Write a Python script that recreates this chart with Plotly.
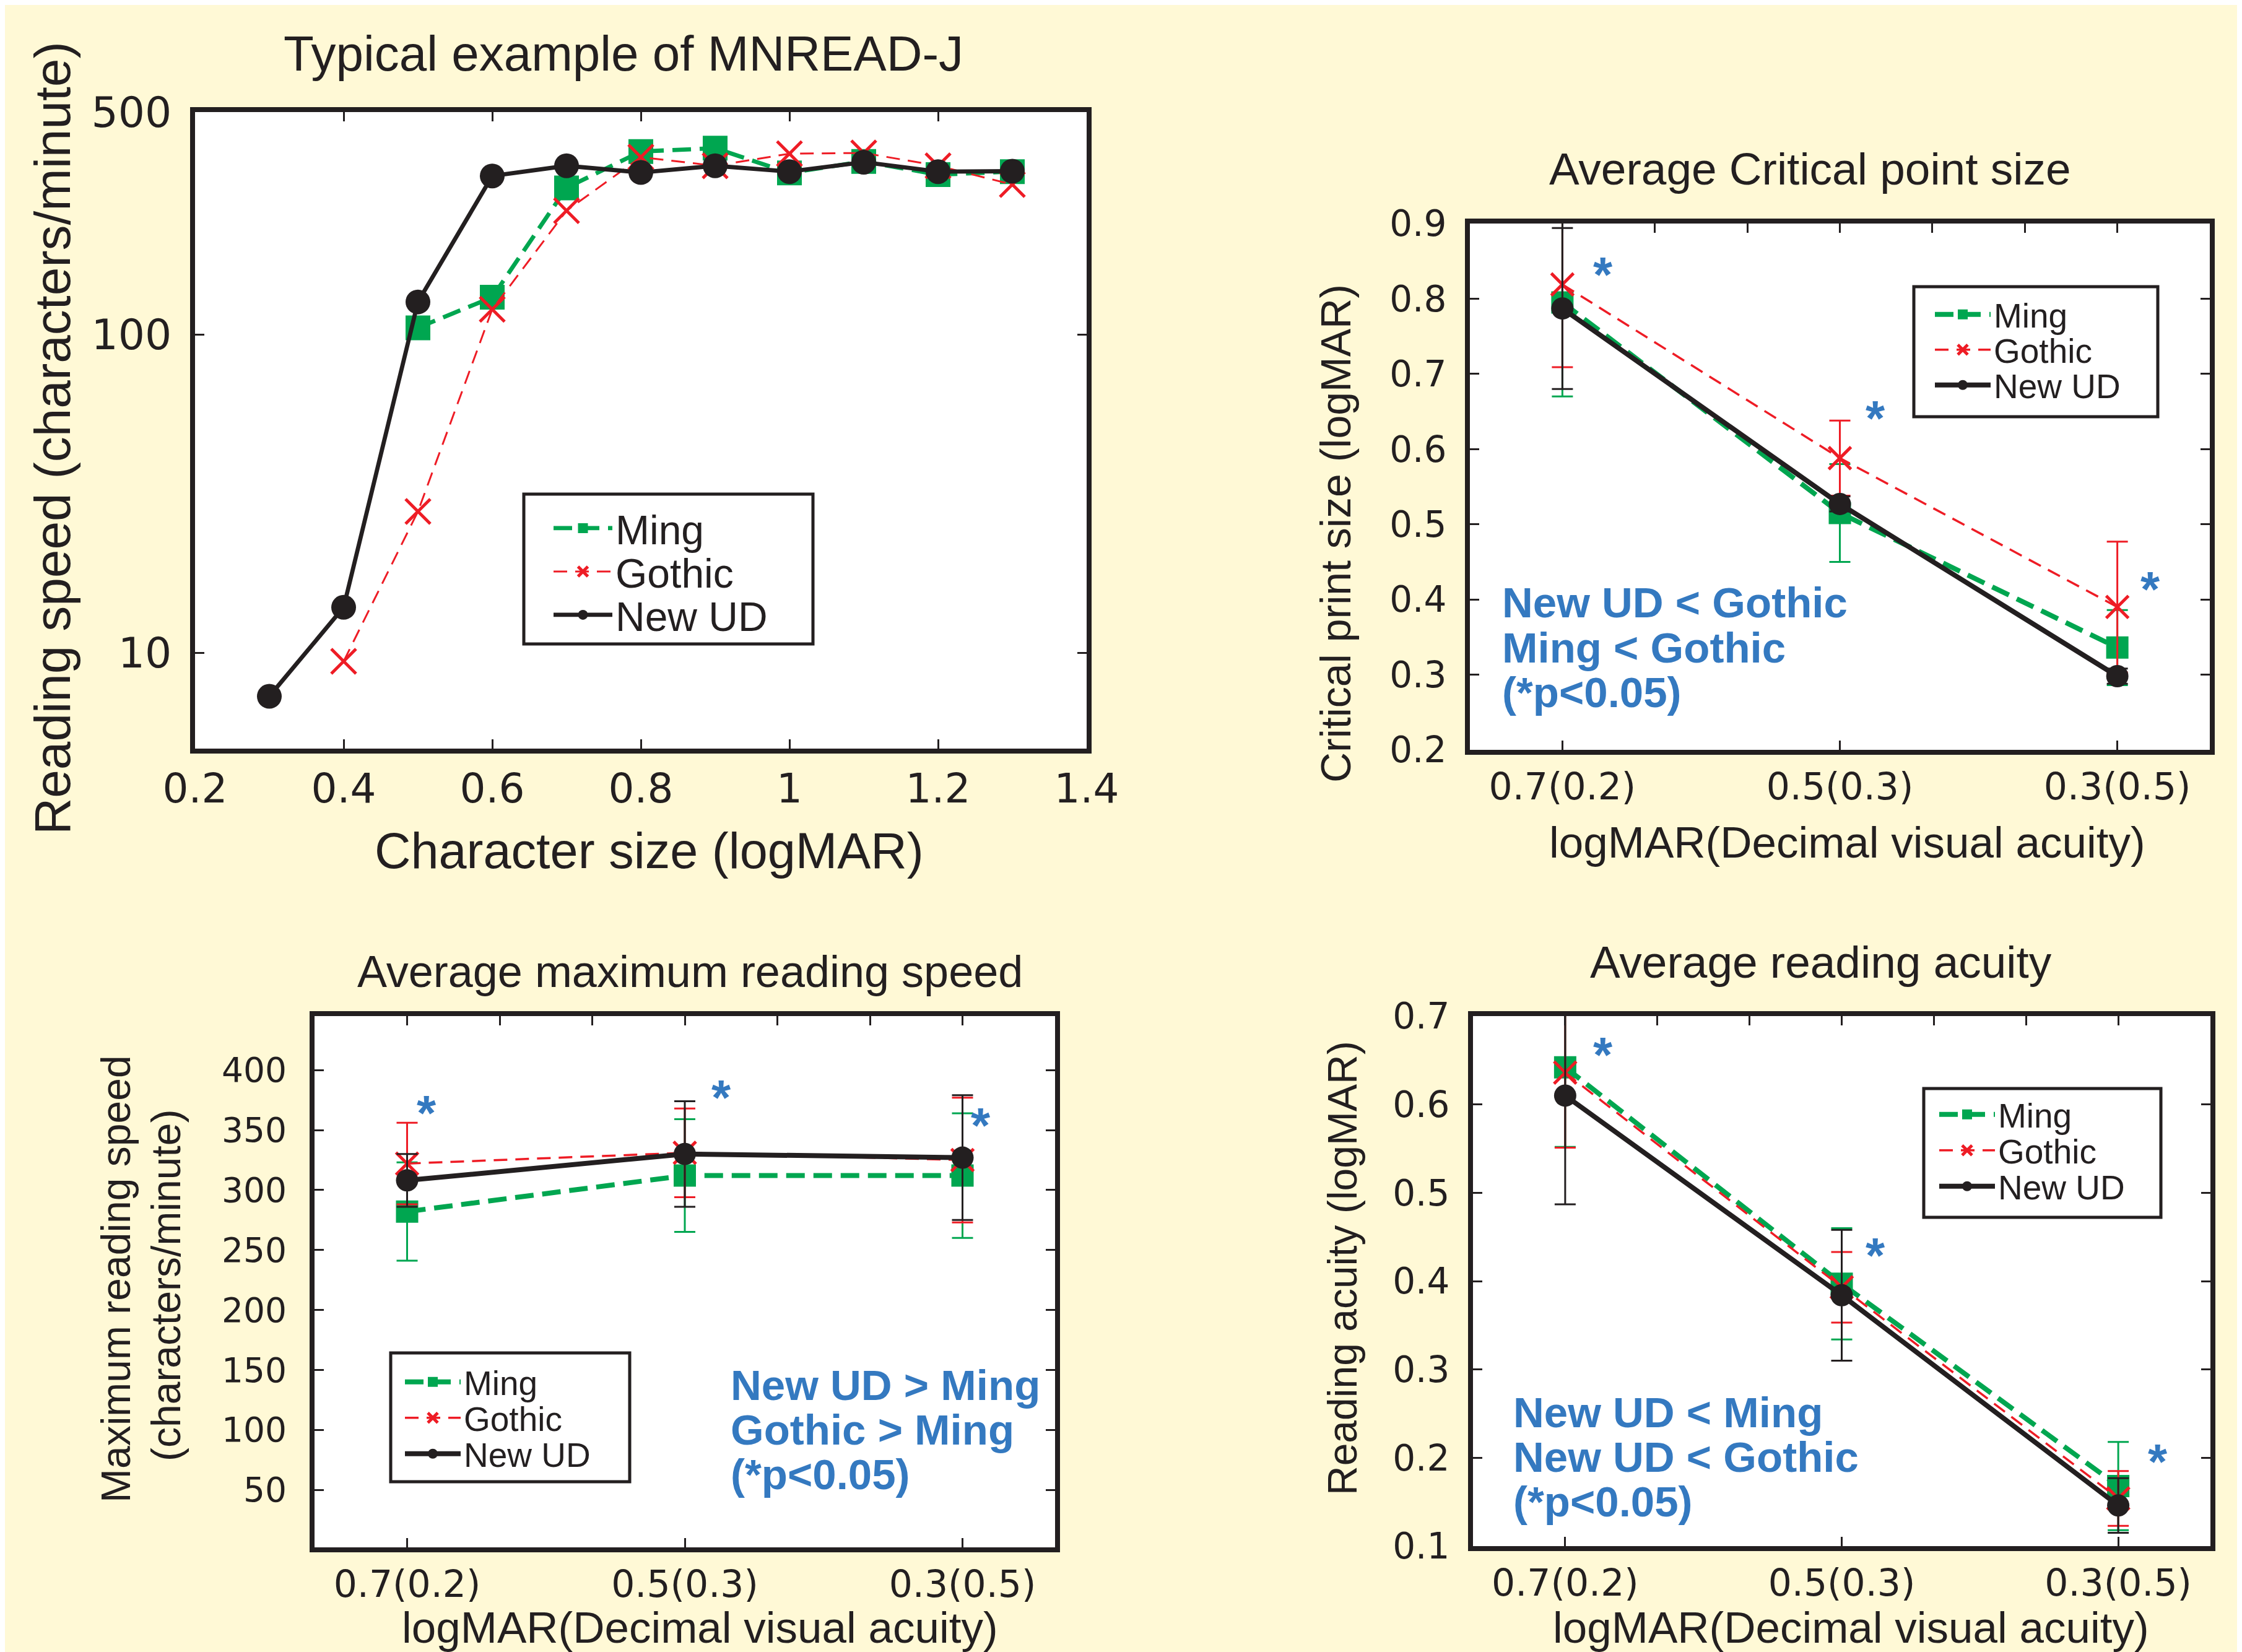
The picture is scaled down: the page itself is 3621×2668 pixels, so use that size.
import plotly.graph_objects as go

W, H = 3621, 2668

# ---------------- data ----------------
# Panel 1: typical example (log reading speed vs character size)
size_logmar = [0.3, 0.4, 0.5, 0.6, 0.7, 0.8, 0.9, 1.0, 1.1, 1.2, 1.3]
speed_ming = [None, None, 105, 131, 289, 376, 385, 322, 350, 318, 325]
speed_gothic = [None, 9.4, 27.8, 120, 245, 361, 339, 370, 372, 339, 296]
speed_newud = [7.3, 13.9, 126.6, 315, 339, 323, 339, 325, 348, 325, 326]

# Panels 2-4: three acuity groups
acuity_labels = ["0.7(0.2)", "0.5(0.3)", "0.3(0.5)"]
acuity_pos = [1, 2, 3]

cps_ming = [0.795, 0.515, 0.336]
cps_ming_err = [0.125, 0.065, 0.05]
cps_gothic = [0.819, 0.588, 0.390]
cps_gothic_err = [0.11, 0.05, 0.087]
cps_newud = [0.787, 0.527, 0.298]
cps_newud_err = [0.107, 0.01, 0.01]

mrs_ming = [282, 312, 312]
mrs_ming_err = [41, 47, 52]
mrs_gothic = [322, 331, 325]
mrs_gothic_err = [34, 37, 52]
mrs_newud = [308, 330, 327]
mrs_newud_err = [22, 44, 52]

ra_ming = [0.642, 0.397, 0.168]
ra_ming_err = [0.09, 0.063, 0.05]
ra_gothic = [0.636, 0.393, 0.154]
ra_gothic_err = [0.085, 0.04, 0.031]
ra_newud = [0.610, 0.384, 0.146]
ra_newud_err = [0.123, 0.074, 0.031]

series_names = ["Ming", "Gothic", "New UD"]

# ---------------- styles ----------------
GREEN = "#00A650"
RED = "#EE1C25"
BLACK = "#231F20"
BLUE = "#3479C0"
BG = "#FFF9D6"
TITLE_FONT = "Liberation Sans"
TICK_FONT = "DejaVu Sans"


def px(x):
    return x / W


def py(y):
    return 1 - y / H


fig = go.Figure()

# legend placement per panel: (text-left x, [item centre y], box [x0, y0, x1, y1], font, itemwidth)
legend_specs = [
    (986, [845, 915, 985], [838, 790, 1305, 1032], 66, 95),
    (3212, [500, 557, 614], [3083, 455, 3477, 665], 55, 90),
    (741, [2224, 2282, 2340], [623, 2177, 1009, 2385], 55, 90),
    (3219, [1792, 1850, 1908], [3099, 1750, 3482, 1958], 55, 90),
]


def legend_name(n):
    return "legend" if n == 1 else f"legend{n}"


def add_series(panel, xs, ys, errs, xa, ya, lw_scale, msize):
    styles = [
        dict(color=GREEN, width=8 * lw_scale, dash="30px,14px", symbol="square", mline=0),
        dict(color=RED, width=3.5 * lw_scale, dash="22px,13px", symbol="x-thin", mline=5),
        dict(color=BLACK, width=8 * lw_scale, dash="solid", symbol="circle", mline=0),
    ]
    for k, (name, y, e, st) in enumerate(zip(series_names, ys, errs, styles)):
        tr = dict(
            x=xs, y=y, name=name, mode="lines+markers", xaxis=xa, yaxis=ya,
            legend=legend_name(panel * 3 + k + 1), cliponaxis=False,
            line=dict(color=st["color"], width=st["width"], dash=st["dash"]),
            marker=dict(symbol=st["symbol"], size=msize, color=st["color"],
                        line=dict(color=st["color"], width=st["mline"])),
        )
        if e is not None:
            tr["error_y"] = dict(type="data", array=e, visible=True, color=st["color"],
                                 thickness=3, width=17)
        fig.add_trace(go.Scatter(**tr))


add_series(0, size_logmar, [speed_ming, speed_gothic, speed_newud], [None, None, None],
           "x", "y", 0.85, 40)
add_series(1, acuity_pos, [cps_ming, cps_gothic, cps_newud],
           [cps_ming_err, cps_gothic_err, cps_newud_err], "x2", "y2", 1.0, 36)
add_series(2, acuity_pos, [mrs_ming, mrs_gothic, mrs_newud],
           [mrs_ming_err, mrs_gothic_err, mrs_newud_err], "x3", "y3", 1.0, 36)
add_series(3, acuity_pos, [ra_ming, ra_gothic, ra_newud],
           [ra_ming_err, ra_gothic_err, ra_newud_err], "x4", "y4", 1.0, 36)

# empty traces to host the top (minor-tick) axes
for xa, ya in [("x5", "y2"), ("x6", "y3"), ("x7", "y4")]:
    fig.add_trace(go.Scatter(x=[], y=[], xaxis=xa, yaxis=ya, showlegend=False,
                             hoverinfo="skip"))

axis_common = dict(showline=True, linecolor=BLACK, linewidth=8, ticks="inside",
                   ticklen=15, tickwidth=3, tickcolor=BLACK, showgrid=False,
                   zeroline=False, automargin=False)

cat_range = [2 / 3, 10 / 3]
thirds = [1 + k / 3 for k in range(7)]

layout = dict(
    width=W, height=H, margin=dict(l=0, r=0, t=0, b=0, pad=0),
    paper_bgcolor=BG, plot_bgcolor="white", showlegend=True,
    xaxis=dict(**axis_common, mirror="ticks", domain=[px(307), px(1747)], anchor="y",
               range=[0.2, 1.4], tickvals=[0.2, 0.4, 0.6, 0.8, 1.0, 1.2, 1.4],
               ticktext=["0.2", "0.4", "0.6", "0.8", "1", "1.2", "1.4"],
               tickfont=dict(family=TICK_FONT, size=66, color=BLACK)),
    yaxis=dict(**axis_common, mirror="ticks", domain=[py(1201), py(173)], anchor="x",
               type="log", range=[0.699, 2.699], tickvals=[10, 100, 500],
               ticktext=["10", "100", "500"], ticklabelstandoff=16,
               tickfont=dict(family=TICK_FONT, size=68, color=BLACK)),
)

panel_dom = {
    2: ([px(2366), px(3561)], [py(1203), py(353)], [0.2, 0.9],
        [0.2, 0.3, 0.4, 0.5, 0.6, 0.7, 0.8, 0.9], 58, 18),
    3: ([px(500), px(1696)], [py(2491), py(1633)], [2, 445],
        [50, 100, 150, 200, 250, 300, 350, 400], 55, 26),
    4: ([px(2371), px(3562)], [py(2489), py(1633)], [0.1, 0.7],
        [0.1, 0.2, 0.3, 0.4, 0.5, 0.6, 0.7], 58, 18),
}
for i, (xd, yd, yr, yt, yfs, ystand) in panel_dom.items():
    layout[f"xaxis{i}"] = dict(**axis_common, mirror=True, domain=xd, anchor=f"y{i}",
                               range=cat_range, tickvals=acuity_pos, ticktext=acuity_labels,
                               tickfont=dict(family=TICK_FONT, size=60, color=BLACK))
    layout[f"yaxis{i}"] = dict(**axis_common, mirror="ticks", domain=yd, anchor=f"x{i}",
                               range=yr, tickvals=yt, ticklabelstandoff=ystand,
                               tickfont=dict(family=TICK_FONT, size=yfs, color=BLACK))
    layout[f"xaxis{i + 3}"] = dict(overlaying=f"x{i}", anchor=f"y{i}", side="top",
                                   range=cat_range, tickvals=thirds, showticklabels=False,
                                   ticks="inside", ticklen=15, tickwidth=3, tickcolor=BLACK,
                                   showline=False, showgrid=False, zeroline=False,
                                   automargin=False)

shapes = []
for p, (tx, ys, box, fs, iw) in enumerate(legend_specs):
    shapes.append(dict(type="rect", xref="paper", yref="paper", layer="above",
                       x0=px(box[0]), x1=px(box[2]), y0=py(box[3]), y1=py(box[1]),
                       fillcolor="white", line=dict(color=BLACK, width=5)))
    for k, yc in enumerate(ys):
        layout[legend_name(p * 3 + k + 1)] = dict(
            bgcolor="rgba(0,0,0,0)", borderwidth=0, xanchor="left", yanchor="middle",
            x=px(tx - iw - 10), y=py(yc), itemwidth=iw,
            font=dict(family=TITLE_FONT, size=fs, color=BLACK))
layout["shapes"] = shapes

fig.update_layout(**layout)

annotations = []


def ann(text, x, y, size, color=BLACK, angle=0, xanchor="center", bold=False, family=TITLE_FONT):
    annotations.append(dict(
        text=f"<b>{text}</b>" if bold else text, x=px(x), y=py(y), xref="paper", yref="paper",
        showarrow=False, textangle=angle, xanchor=xanchor, yanchor="middle",
        font=dict(family=family, size=size, color=color)))


# titles
ann("Typical example of MNREAD-J", 999, 78, 80)
ann("Average Critical point size", 2915, 265, 73)
ann("Average maximum reading speed", 1106, 1561, 72)
ann("Average reading acuity", 2933, 1545, 73)
# x titles
ann("Character size (logMAR)", 1040, 1366, 81)
ann("logMAR(Decimal visual acuity)", 2975, 1352, 71)
ann("logMAR(Decimal visual acuity)", 1122, 2620, 71)
ann("logMAR(Decimal visual acuity)", 2981, 2620, 71)
# y titles
ann("Reading speed (characters/minute)", 76, 700, 82, angle=-90)
ann("Critical print size (logMAR)", 2149, 854, 68, angle=-90)
ann("Reading acuity (logMAR)", 2160, 2040, 66, angle=-90)
ann("Maximum reading speed", 179, 2058, 66, angle=-90)
ann("(characters/minute)", 260, 2068, 66, angle=-90)

# significance text
sig_blocks = [
    (2416, [966, 1038, 1110], ["New UD &lt; Gothic", "Ming &lt; Gothic", "(*p&lt;0.05)"]),
    (1170, [2229, 2301, 2373], ["New UD &gt; Ming", "Gothic &gt; Ming", "(*p&lt;0.05)"]),
    (2434, [2273, 2345, 2417], ["New UD &lt; Ming", "New UD &lt; Gothic", "(*p&lt;0.05)"]),
]
for x0, ys, lines in sig_blocks:
    for yy, t in zip(ys, lines):
        ann(t, x0, yy, 69, color=BLUE, xanchor="left", bold=True)

# asterisks
star_pts = [(2587, 432), (3027, 664), (3471, 940),
            (687, 1786), (1163, 1761), (1582, 1807),
            (2587, 1692), (3027, 2016), (3483, 2349)]
for sx, sy in star_pts:
    ann("*", sx - 6, sy + 3, 80, color=BLUE, bold=True)

fig.update_layout(annotations=annotations)

fig.write_html("out.html")
